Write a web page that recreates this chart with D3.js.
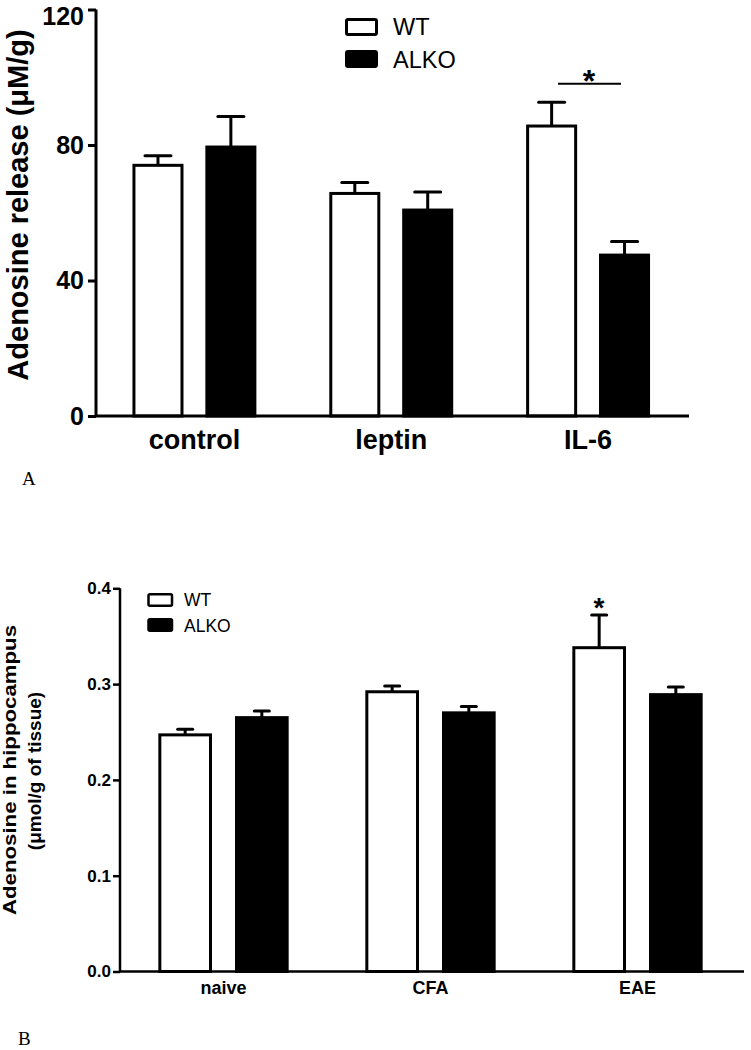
<!DOCTYPE html>
<html><head><meta charset="utf-8">
<script src="https://cdn.jsdelivr.net/npm/d3@7"></script>
<style>
html,body{margin:0;padding:0;background:#fff;}
svg{display:block;font-family:Arial,"Liberation Sans",sans-serif;}
</style></head>
<body>
<svg id="chart" width="751" height="1050"></svg>
<script>
// ---- Panel A data ----
const seriesNames = ["WT", "ALKO"];
const topCategories = ["control", "leptin", "IL-6"];
const topWT = [74.0, 65.7, 85.6];
const topWTErr = [2.8, 3.2, 7.0];
const topALKO = [79.4, 60.8, 47.5];
const topALKOErr = [9.0, 5.3, 4.0];
const topTicks = [0, 40, 80, 120];

// ---- Panel B data ----
const botCategories = ["naive", "CFA", "EAE"];
const botWT = [0.247, 0.292, 0.338];
const botWTErr = [0.006, 0.006, 0.034];
const botALKO = [0.265, 0.270, 0.289];
const botALKOErr = [0.007, 0.0065, 0.008];
const botTicks = [0.0, 0.1, 0.2, 0.3, 0.4];

const svg = d3.select("#chart");

function panel(cfg) {
  const g = svg.append("g");
  const x0 = d3.scaleBand().domain(cfg.cats).range(cfg.xr).padding(0);
  const x1 = d3.scaleBand().domain(seriesNames).range([0, x0.bandwidth()])
    .paddingInner(0.3).paddingOuter(0.5);
  const y = d3.scaleLinear().domain(cfg.yd).range(cfg.yr);

  const rows = [];
  cfg.cats.forEach((c, i) => {
    rows.push({cat: c, s: "WT", v: cfg.wt[i], e: cfg.wtErr[i]});
    rows.push({cat: c, s: "ALKO", v: cfg.alko[i], e: cfg.alkoErr[i]});
  });

  // error bars (upper only)
  rows.forEach(d => {
    const cx = x0(d.cat) + x1(d.s) + x1.bandwidth() / 2;
    g.append("line").attr("x1", cx).attr("x2", cx)
      .attr("y1", y(d.v)).attr("y2", y(d.v + d.e))
      .attr("stroke", "#000").attr("stroke-width", cfg.sw);
    g.append("line").attr("x1", cx - cfg.capW / 2).attr("x2", cx + cfg.capW / 2)
      .attr("y1", y(d.v + d.e)).attr("y2", y(d.v + d.e))
      .attr("stroke", "#000").attr("stroke-width", cfg.sw).attr("stroke-linecap", "round");
  });

  // bars
  g.selectAll("rect.bar").data(rows).join("rect").attr("class", "bar")
    .attr("x", d => x0(d.cat) + x1(d.s) + cfg.sw / 2)
    .attr("width", x1.bandwidth() - cfg.sw)
    .attr("y", d => y(d.v))
    .attr("height", d => y(0) - y(d.v))
    .attr("fill", d => d.s === "WT" ? "#fff" : "#000")
    .attr("stroke", "#000").attr("stroke-width", cfg.sw);

  // y axis
  const ya = g.append("g").attr("transform", `translate(${cfg.xr[0]},0)`)
    .call(d3.axisLeft(y).tickValues(cfg.ticks).tickFormat(cfg.fmt).tickSize(cfg.tickLen).tickPadding(cfg.tickPad));
  ya.select(".domain").attr("stroke-width", cfg.axW).attr("d", `M0,${cfg.yr[0]}V${cfg.yr[1]}`);
  ya.selectAll(".tick line").attr("stroke-width", cfg.axW);
  ya.selectAll(".tick text").attr("font-size", cfg.tickFs).attr("font-weight", "bold").attr("fill", "#000")
    .attr("font-family", "Arial, 'Liberation Sans', sans-serif")
    .attr("dy", (d, i, n) => (d === cfg.yd[1] && cfg.topNudge) ? "0.6em" : "0.32em");

  // x axis
  const xa = g.append("g").attr("transform", `translate(0,${y(0)})`)
    .call(d3.axisBottom(x0).tickSize(0).tickPadding(cfg.xPad));
  xa.select(".domain").attr("stroke-width", cfg.axW).attr("d", `M${cfg.xr[0]},0H${cfg.xEnd}`);
  xa.selectAll(".tick text").attr("font-size", cfg.xFs).attr("font-weight", "bold").attr("fill", "#000")
    .attr("font-family", "Arial, 'Liberation Sans', sans-serif");

  return {g, x0, x1, y};
}

// ---- Panel A ----
const A = panel({
  cats: topCategories, wt: topWT, wtErr: topWTErr, alko: topALKO, alkoErr: topALKOErr,
  xr: [96, 686.5], xEnd: 689, yd: [0, 120], yr: [416, 9.5], ticks: topTicks, fmt: d3.format("d"),
  sw: 3, capW: 26, axW: 3, tickLen: 8, tickPad: 4, tickFs: 25, xFs: 27, xPad: 14, topNudge: true
});
// y title
A.g.append("text").attr("transform", "translate(28,205) rotate(-90)")
  .attr("text-anchor", "middle").attr("font-size", 29).attr("font-weight", "bold")
  .text("Adenosine release (\u03BCM/g)");
// legend
[["WT", "#fff", 18, 35], ["ALKO", "#000", 50, 67.5]].forEach(([t, f, y0, base]) => {
  A.g.append("rect").attr("x", 346.5).attr("y", y0 + 1.5).attr("width", 30).attr("height", 15)
    .attr("rx", 1.5).attr("fill", f).attr("stroke", "#000").attr("stroke-width", 3);
  A.g.append("text").attr("x", 393).attr("y", base).attr("font-size", 23.5).text(t);
});
// significance
A.g.append("line").attr("x1", 558).attr("x2", 621).attr("y1", 83.7).attr("y2", 83.7)
  .attr("stroke", "#000").attr("stroke-width", 2);
A.g.append("text").attr("x", 589).attr("y", 92).attr("text-anchor", "middle")
  .attr("font-size", 32).attr("font-weight", "bold").text("*");
svg.append("text").attr("x", 22).attr("y", 485).attr("font-family", "'Liberation Serif','Times New Roman',serif")
  .attr("font-size", 19).text("A");

// ---- Panel B ----
const B = panel({
  cats: botCategories, wt: botWT, wtErr: botWTErr, alko: botALKO, alkoErr: botALKOErr,
  xr: [120, 741], xEnd: 744, yd: [0, 0.4], yr: [971.5, 588.3], ticks: botTicks, fmt: d3.format(".1f"),
  sw: 3, capW: 15, axW: 2.5, tickLen: 7, tickPad: 2, tickFs: 17, xFs: 18, xPad: 10, topNudge: false
});
B.g.append("text").attr("transform", "translate(16,770) rotate(-90)")
  .attr("text-anchor", "middle").attr("font-size", 19).attr("font-weight", "bold")
  .attr("textLength", 290).attr("lengthAdjust", "spacingAndGlyphs")
  .text("Adenosine in hippocampus");
B.g.append("text").attr("transform", "translate(41,771) rotate(-90)")
  .attr("text-anchor", "middle").attr("font-size", 19).attr("font-weight", "bold")
  .text("(\u03BCmol/g of tissue)");
[["WT", "#fff", 593, 606], ["ALKO", "#000", 618, 632]].forEach(([t, f, y0, base]) => {
  B.g.append("rect").attr("x", 148.5).attr("y", y0 + 1.2).attr("width", 23.5).attr("height", 11.5)
    .attr("rx", 1.5).attr("fill", f).attr("stroke", "#000").attr("stroke-width", 2.5);
  B.g.append("text").attr("x", 184).attr("y", base).attr("font-size", 17.5).text(t);
});
B.g.append("text").attr("x", 599).attr("y", 617).attr("text-anchor", "middle")
  .attr("font-size", 28).attr("font-weight", "bold").text("*");
svg.append("text").attr("x", 18).attr("y", 1045).attr("font-family", "'Liberation Serif','Times New Roman',serif")
  .attr("font-size", 19).text("B");
</script>
</body></html>
